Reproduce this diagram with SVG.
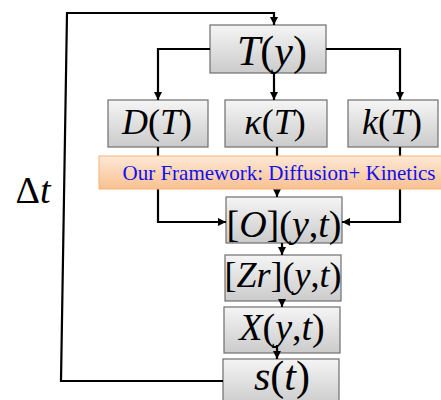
<svg xmlns="http://www.w3.org/2000/svg" width="441" height="400" viewBox="0 0 441 400">
<defs>
<linearGradient id="gbox" x1="0" y1="0" x2="0" y2="1">
<stop offset="0" stop-color="#f5f5f5"/>
<stop offset="1" stop-color="#cbcbcb"/>
</linearGradient>
<linearGradient id="gban" x1="0" y1="0" x2="0" y2="1">
<stop offset="0" stop-color="#fde8d6"/>
<stop offset="1" stop-color="#f9c190"/>
</linearGradient>
<marker id="arr" viewBox="0 0 10 10" refX="10" refY="5" markerWidth="9" markerHeight="8" orient="auto" markerUnits="userSpaceOnUse">
<path d="M0,0 L10,5 L0,10 z" fill="#000"/>
</marker>
</defs>
<style>
.box{fill:url(#gbox);stroke:#6e6e6e;stroke-width:1.2}
.ban{fill:url(#gban);stroke:#f4b27a;stroke-width:1}
.lbl{font-family:"Liberation Serif","Times New Roman",serif;fill:#000;text-anchor:middle}
.i{font-style:italic}
.con{fill:none;stroke:#000;stroke-width:2.2}
.ar{marker-end:url(#arr)}
.btx{font-family:"Liberation Serif","Times New Roman",serif;fill:#1010f0;font-size:21px;text-anchor:middle}
</style>
<rect width="441" height="400" fill="#fff"/>
<g id="dt">
<text class="lbl" x="33" y="203" font-size="38">Δ<tspan class="i">t</tspan></text>
</g>
<g id="Ty">
<rect class="box" x="210" y="25" width="116" height="48"/>
<text class="lbl" x="272" y="65" font-size="42"><tspan class="i">T</tspan>(<tspan class="i">y</tspan>)</text>
</g>
<g id="DT">
<rect class="box" x="108" y="100" width="100" height="47"/>
<text class="lbl" x="157" y="134" font-size="36"><tspan class="i">D</tspan>(<tspan class="i">T</tspan>)</text>
</g>
<g id="kappaT">
<rect class="box" x="225" y="100" width="102" height="47"/>
<text class="lbl" x="275" y="134" font-size="36"><tspan class="i">κ</tspan>(<tspan class="i">T</tspan>)</text>
</g>
<g id="kT">
<rect class="box" x="348" y="100" width="90" height="47"/>
<text class="lbl" x="392" y="134" font-size="36"><tspan class="i">k</tspan>(<tspan class="i">T</tspan>)</text>
</g>
<g id="O">
<rect class="box" x="226" y="197" width="116" height="46"/>
<text class="lbl" x="284" y="237" font-size="38">[<tspan class="i">O</tspan>](<tspan class="i">y</tspan>,<tspan class="i">t</tspan>)</text>
</g>
<g id="Zr">
<rect class="box" x="225" y="255" width="116" height="46"/>
<text class="lbl" x="283" y="287" font-size="36">[<tspan class="i">Zr</tspan>](<tspan class="i">y</tspan>,<tspan class="i">t</tspan>)</text>
</g>
<g id="X">
<rect class="box" x="224" y="307" width="116" height="46"/>
<text class="lbl" x="282" y="340" font-size="38"><tspan class="i">X</tspan>(<tspan class="i">y</tspan>,<tspan class="i">t</tspan>)</text>
</g>
<g id="s">
<rect class="box" x="223" y="359" width="116" height="46"/>
<text class="lbl" x="282" y="390" font-size="42"><tspan class="i">s</tspan>(<tspan class="i">t</tspan>)</text>
</g>
<g id="connectors">
<path class="con ar" d="M223,381 L61,381 L67,13 L274,13 L274,25"/>
<path class="con ar" d="M210,49 L158,49 L158,100"/>
<path class="con ar" d="M274,73 L274,100"/>
<path class="con ar" d="M326,49 L400,49 L400,100"/>
<path class="con ar" d="M158,147 L158,222 L226,222"/>
<path class="con ar" d="M277,147 L277,197"/>
<path class="con ar" d="M400,147 L400,222 L342,222"/>
<path class="con ar" d="M282,243 L282,255"/>
<path class="con ar" d="M282,301 L282,307"/>
<path class="con ar" d="M277,345 L277,359"/>
</g>
<g id="framework">
<rect class="ban" x="99" y="156" width="345" height="33"/>
<text class="btx" x="279" y="180">Our Framework: Diffusion+ Kinetics</text>
</g>
</svg>
